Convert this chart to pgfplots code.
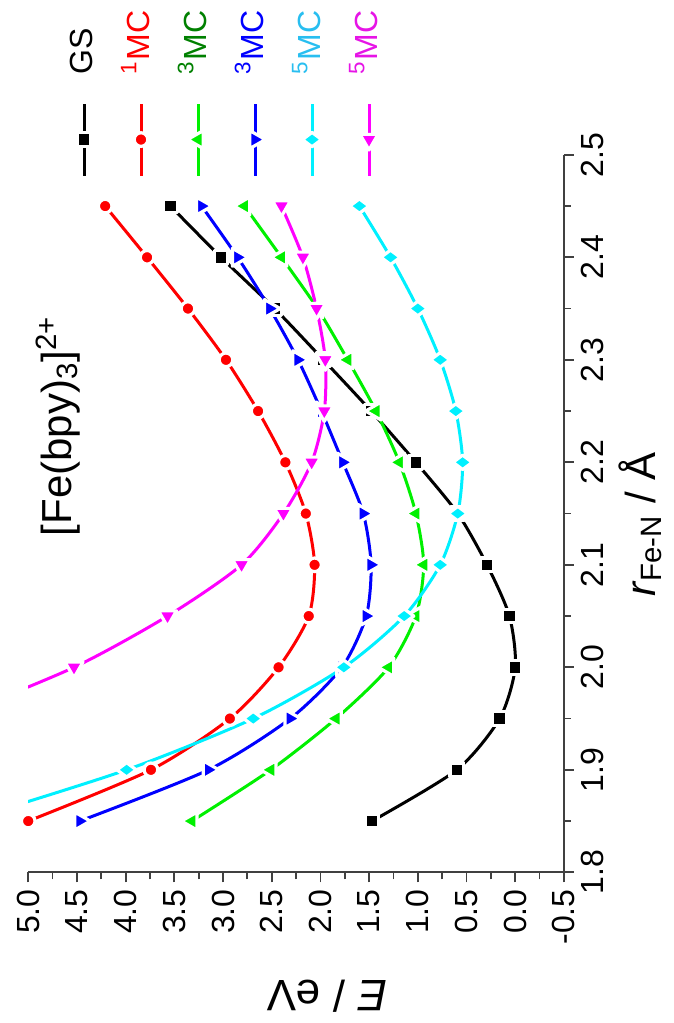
\documentclass[border=0pt]{standalone}
\usepackage{pgfplots}
\pgfplotsset{compat=1.18}
\usepackage{fontspec}
\setmainfont{Liberation Sans}
\usepackage{graphicx}
\definecolor{cRed}{RGB}{255,0,0}
\definecolor{cGreen}{RGB}{0,240,0}
\definecolor{cBlue}{RGB}{0,0,255}
\definecolor{cCyan}{RGB}{0,240,255}
\definecolor{cMag}{RGB}{255,0,255}
\definecolor{tGreen}{RGB}{0,128,0}
\definecolor{tCyan}{RGB}{40,190,240}
\definecolor{tMag}{RGB}{230,20,230}
\pgfplotstableread{
r E
1.85 1.47
1.90 0.60
1.95 0.16
2.00 0.00
2.05 0.06
2.10 0.29
2.15 0.59
2.20 1.02
2.25 1.48
2.30 1.97
2.35 2.47
2.40 3.02
2.45 3.54
}\tGS
\pgfplotstableread{
r E
1.85 5.00
1.90 3.74
1.95 2.93
2.00 2.43
2.05 2.12
2.10 2.06
2.15 2.15
2.20 2.36
2.25 2.64
2.30 2.97
2.35 3.36
2.40 3.78
2.45 4.21
}\tOneMC
\pgfplotstableread{
r E
1.85 3.32
1.90 2.51
1.95 1.84
2.00 1.30
2.05 1.02
2.10 0.94
2.15 1.02
2.20 1.19
2.25 1.43
2.30 1.72
2.35 2.03
2.40 2.40
2.45 2.78
}\tThreeG
\pgfplotstableread{
r E
1.85 4.47
1.90 3.15
1.95 2.31
2.00 1.78
2.05 1.53
2.10 1.48
2.15 1.56
2.20 1.77
2.25 1.99
2.30 2.23
2.35 2.52
2.40 2.85
2.45 3.22
}\tThreeB
\pgfplotstableread{
r E
1.85 5.65
1.90 3.99
1.95 2.69
2.00 1.76
2.05 1.14
2.10 0.77
2.15 0.59
2.20 0.54
2.25 0.61
2.30 0.77
2.35 1.00
2.40 1.28
2.45 1.60
}\tFiveC
\pgfplotstableread{
r E
1.95 5.80
2.00 4.53
2.05 3.57
2.10 2.81
2.15 2.38
2.20 2.09
2.25 1.96
2.30 1.95
2.35 2.04
2.40 2.18
2.45 2.40
}\tFiveM
\begin{document}
\rotatebox{90}{%
\begin{tikzpicture}[x=0.5pt,y=0.5pt]
\path[use as bounding box] (0,0) rectangle (1023,674);
\begin{axis}[
  at={(147,113)}, anchor=south west,
  scale only axis, width=358.75pt, height=267.85pt,
  xmin=1.8, xmax=2.5, ymin=-0.5, ymax=5.0,
  xtick={1.8,1.9,...,2.51}, ytick={-0.5,0,...,5.01},
  minor x tick num=1, minor y tick num=1,
  axis x line*=bottom, axis y line*=left,
  axis line style={-, line width=0.9pt, black!75},
  tick style={line width=0.9pt, black!75},
  tick align=outside,
  major tick length=5pt, minor tick length=3.5pt,
  /pgf/number format/assume math mode=true,
  /pgf/number format/.cd, fixed, fixed zerofill, precision=1, /pgfplots/.cd,
  ticklabel style={font=\fontsize{16}{18}\selectfont},
  xlabel={\textit{r}\textsubscript{Fe-N} / Å},
  ylabel={\textit{E} / eV},
  xlabel style={font=\fontsize{21}{25}\selectfont, at={(axis description cs:0.485,-0.143)}, anchor=center},
  ylabel style={font=\fontsize{22}{26}\selectfont, at={(axis description cs:-0.1728,0.442)}, anchor=center, rotate=0},
  legend style={draw=none, fill=none, inner sep=0pt, outer sep=0pt,
    at={(axis description cs:0.969,0.922)}, anchor=north west,
    font=\fontsize{16}{19}\selectfont, row sep=14.5pt,
    nodes={inner sep=0pt, text height=11pt, text depth=3pt}},
  legend cell align=left,
  /tikz/every odd column/.append style={column sep=14pt},
  legend image code/.code={\draw[mark repeat=2,mark phase=2,solid] plot coordinates {(0pt,0pt) (18pt,0pt) (36pt,0pt)};},
  every axis plot/.append style={line width=1.5pt, smooth, tension=0.45},
]
\addplot[color=black, mark=square*, mark size=3.4pt, mark options={solid, fill=black, draw=white, line width=1.6pt, line join=round}] table[x=r,y=E] {\tGS};
\addlegendentry{GS}
\addplot[color=cRed, mark=*, mark size=3.4pt, mark options={solid, fill=cRed, draw=white, line width=1.6pt}] table[x=r,y=E] {\tOneMC};
\addlegendentry{\textcolor{cRed}{\textsuperscript{1}MC}}
\addplot[color=cGreen, mark=triangle*, mark size=5.2pt, mark options={solid, fill=cGreen, draw=white, line width=1.6pt, line join=round}] table[x=r,y=E] {\tThreeG};
\addlegendentry{\textcolor{tGreen}{\textsuperscript{3}MC}}
\addplot[color=cBlue, mark=triangle*, mark size=5.2pt, mark options={solid, rotate=180, fill=cBlue, draw=white, line width=1.6pt, line join=round}] table[x=r,y=E] {\tThreeB};
\addlegendentry{\textcolor{cBlue}{\textsuperscript{3}MC}}
\addplot[color=cCyan, mark=diamond*, mark size=4.8pt, mark options={solid, fill=cCyan, draw=white, line width=1.6pt, line join=round}] table[x=r,y=E] {\tFiveC};
\addlegendentry{\textcolor{tCyan}{\textsuperscript{5}MC}}
\addplot[color=cMag, mark=triangle*, mark size=5.2pt, mark options={solid, rotate=90, fill=cMag, draw=white, line width=1.6pt, line join=round}] table[x=r,y=E] {\tFiveM};
\addlegendentry{\textcolor{tMag}{\textsuperscript{5}MC}}
\node[anchor=west, font=\fontsize{21}{25}\selectfont] at (axis description cs:0.4585,0.9446) {[Fe(bpy)\textsubscript{3}]\textsuperscript{2+}};
\end{axis}
\end{tikzpicture}}
\end{document}
